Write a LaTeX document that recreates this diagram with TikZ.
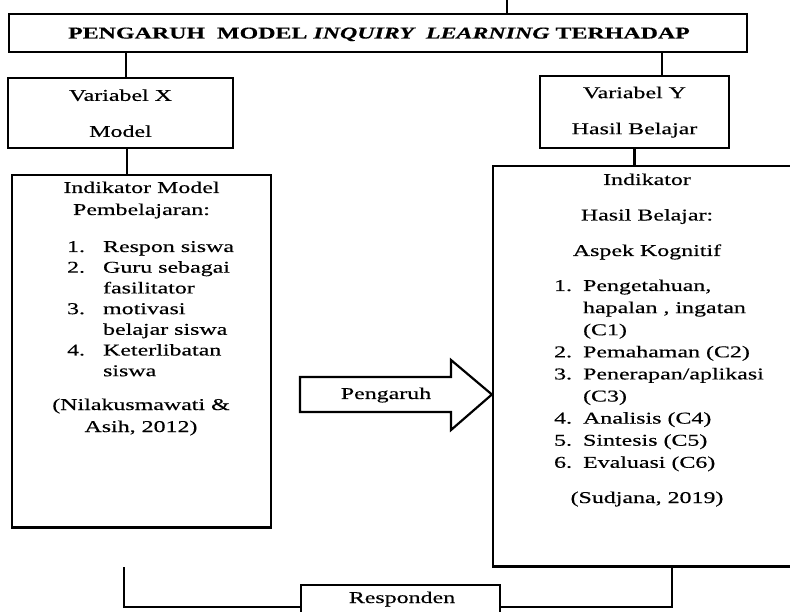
\documentclass[tikz,border=0pt]{standalone}
\usepackage{fontspec}
\setmainfont{Liberation Serif}[FakeStretch=1.45,FakeBold=0.4]
\usetikzlibrary{positioning}
\tikzset{box node/.style={rectangle,draw,line width=2.2pt,inner sep=0pt,fill=white}}
\tikzset{teks/.style={inner sep=0pt,font=\fontsize{16.5}{22}\selectfont}}
\tikzset{dua baris/.style={align=center,font=\fontsize{16.5}{36}\selectfont}}

\begin{document}
\begin{tikzpicture}[x=1pt,y=-1pt,line width=2.2pt]
    \useasboundingbox (0,0) rectangle (790,612);
    \clip (0,0) rectangle (790,612);
    \fill[white] (0,0) rectangle (790,612);

    % judul
    \node[box node,minimum width=738pt,minimum height=38pt] (judul) at (378,33) {};
    \node[teks,anchor=base] (judul_{t}) at (379,38.5) {\bfseries PENGARUH\ \ MODEL \textit{INQUIRY\ \ LEARNING} TERHADAP};
    \coordinate (atas) at (507,0);

    % variabel
    \node[box node,dua baris,minimum width=225pt,minimum height=70pt] (var_{x}) [below right=24pt and -1pt of judul.south west] {Variabel X\\Model};
    \node[box node,dua baris,minimum width=189pt,minimum height=72pt] (var_{y}) [below left=22pt and 18pt of judul.south east] {Variabel Y\\Hasil Belajar};

    % indikator
    \node[box node,minimum width=259pt,minimum height=352pt] (ind_{x}) [below right=25pt and 4pt of var_{x}.south west] {};
    \node[box node,minimum width=308pt,minimum height=400pt] (ind_{y}) [below right=16pt and -47pt of var_{y}.south west] {};

    \node[teks,anchor=base] (kepala_{x}) at (141.5,193) {\begin{tabular}[t]{@{}c@{}}Indikator Model\\Pembelajaran:\end{tabular}};
    \node[teks,anchor=base west,font=\fontsize{16.5}{20.7}\selectfont] (daftar_{x}) at (66,252) {\begin{tabular}[t]{@{}p{36pt}@{}l@{}}
        1.&Respon siswa\\
        2.&Guru sebagai\\
        &fasilitator\\
        3.&motivasi\\
        &belajar siswa\\
        4.&Keterlibatan\\
        &siswa
    \end{tabular}};
    \node[teks,anchor=base] (sumber_{x}) at (141,410) {\begin{tabular}[t]{@{}c@{}}(Nilakusmawati \&\\Asih, 2012)\end{tabular}};

    \node[teks,anchor=base,font=\fontsize{16.5}{35.5}\selectfont] (kepala_{y}) at (647,185) {\begin{tabular}[t]{@{}c@{}}Indikator\\Hasil Belajar:\\Aspek Kognitif\end{tabular}};
    \node[teks,anchor=base west,font=\fontsize{16.5}{22.1}\selectfont] (daftar_{y}) at (553,291) {\begin{tabular}[t]{@{}p{29pt}@{}l@{}}
        1.&Pengetahuan,\\
        &hapalan , ingatan\\
        &(C1)\\
        2.&Pemahaman (C2)\\
        3.&Penerapan/aplikasi\\
        &(C3)\\
        4.&Analisis (C4)\\
        5.&Sintesis (C5)\\
        6.&Evaluasi (C6)
    \end{tabular}};
    \node[teks,anchor=base] (sumber_{y}) at (647,503) {(Sudjana, 2019)};

    % panah pengaruh
    \draw[fill=white] (300,377) -- (451,377) -- (451,360) -- (ind_{y}.west |- 0,394.5) -- (451,430) -- (451,412) -- (300,412) -- cycle;
    \node[teks,anchor=base] (pengaruh) at (386,399) {Pengaruh};

    % responden
    \node[box node,minimum width=199pt,minimum height=45pt] (resp) at (400.5,607.5) {};
    \node[teks,anchor=base] (resp_{t}) at (402,603) {Responden};
    \coordinate (kiri) at (124,567);
    \coordinate (kanan) at (672,567);

    % garis
    \draw (atas) -- (atas |- judul.north);
    \draw ([xshift=5.5pt]var_{x}.north) -- ([xshift=5.5pt]var_{x}.north |- judul.south);
    \draw ([xshift=6.5pt]var_{x}.south) -- ([xshift=6.5pt]var_{x}.south |- ind_{x}.north);
    \draw ([xshift=27.5pt]var_{y}.north) -- ([xshift=27.5pt]var_{y}.north |- judul.south);
    \draw (var_{y}.south) -- (var_{y}.south |- ind_{y}.north);
    \draw (kiri) -- ++(0,40) -- (resp.west |- 0,607);
    \draw (kanan) -- ++(0,40) -- (resp.east |- 0,607);
\end{tikzpicture}
\end{document}
